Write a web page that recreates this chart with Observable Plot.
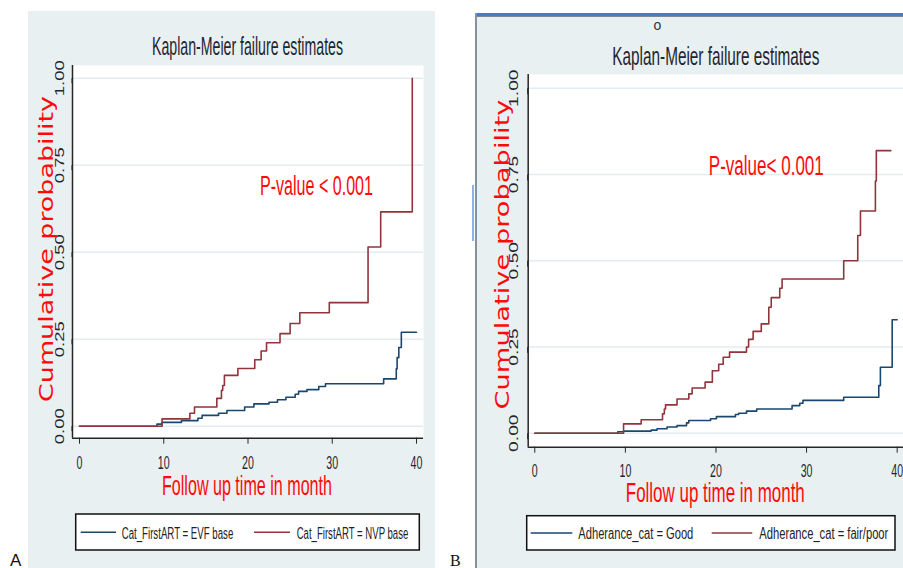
<!DOCTYPE html>
<html><head><meta charset="utf-8">
<script src="https://cdn.jsdelivr.net/npm/d3@7"></script>
<script src="https://cdn.jsdelivr.net/npm/@observablehq/plot@0.6"></script>
<style>
html,body{margin:0;padding:0;background:#fff;}
#stage{position:relative;width:903px;height:568px;overflow:hidden;background:#fff;}
#stage > *{position:absolute;}
</style></head><body><div id="stage"></div>
<script>
// ---------------- data ----------------
const xTicks = [0, 10, 20, 30, 40];
const yTicks = [0, 0.25, 0.5, 0.75, 1];

const panelTitle = "Kaplan-Meier failure estimates";
const yTitle = "Cumulative probability";
const xTitle = "Follow up time in month";
const pLabels = ["P-value < 0.001", "P-value< 0.001"];
const panelLetters = ["A", "B"];

// Panel A
const aSeries = ["Cat_FirstART = EVF base", "Cat_FirstART = NVP base"];
const aEVF_time = [0, 9.2, 9.8, 12.1, 14.05, 14.55, 16.5, 17.5, 19.6, 20.7, 22.5, 23.5, 24.5, 25.6, 26.0, 27.0, 28.4, 29.2, 36.1, 37.6, 37.7, 37.9, 38.2, 40.0];
const aEVF_prob = [0, 0.006, 0.011, 0.016, 0.023, 0.031, 0.037, 0.045, 0.055, 0.064, 0.069, 0.076, 0.083, 0.092, 0.100, 0.105, 0.114, 0.122, 0.136, 0.165, 0.197, 0.226, 0.270, 0.270];
const aNVP_time = [0, 9.8, 13.1, 13.65, 16.3, 16.85, 17.0, 17.2, 18.8, 20.8, 21.56, 22.2, 23.8, 25.0, 26.15, 29.65, 34.25, 35.75, 39.5];
const aNVP_prob = [0, 0.021, 0.037, 0.055, 0.080, 0.103, 0.117, 0.146, 0.166, 0.191, 0.216, 0.240, 0.266, 0.295, 0.326, 0.355, 0.515, 0.616, 1.0];

// Panel B
const bSeries = ["Adherance_cat = Good", "Adherance_cat = fair/poor"];
const bGood_time = [0, 9.16, 9.8, 12.85, 13.5, 14.6, 15.7, 16.75, 17.0, 19.4, 20.05, 22.15, 22.5, 23.37, 24.5, 28.4, 29.25, 29.6, 34.1, 37.97, 38.15, 39.45, 40.0];
const bGood_prob = [0, 0.004, 0.006, 0.009, 0.013, 0.018, 0.022, 0.030, 0.037, 0.042, 0.048, 0.054, 0.058, 0.064, 0.070, 0.080, 0.087, 0.095, 0.104, 0.138, 0.191, 0.329, 0.329];
const bPoor_time = [0, 9.8, 11.74, 14.1, 14.3, 14.43, 15.7, 17.0, 17.37, 18.8, 19.6, 20.3, 20.8, 21.5, 23.37, 23.6, 24.1, 25.0, 25.83, 26.1, 27.04, 27.3, 34.1, 35.65, 35.95, 37.6, 37.7, 39.3];
const bPoor_prob = [0, 0.027, 0.039, 0.056, 0.070, 0.082, 0.099, 0.114, 0.131, 0.148, 0.181, 0.200, 0.220, 0.235, 0.250, 0.272, 0.295, 0.317, 0.365, 0.393, 0.420, 0.447, 0.500, 0.573, 0.644, 0.731, 0.819, 0.819];

// ---------------- style ----------------
const NAVY = "#1a476f", MAROON = "#90353b", GRID = "#e3ecf0", BG = "#e9f0f2";
const AXIS = "#262626", RED = "#ff0a0a", TXT = "#1e2630";
const NARROW = "'Liberation Sans Narrow','Liberation Sans',Arial,sans-serif";
const SANS = "'Liberation Sans',Arial,sans-serif";
const WIDE = "'DejaVu Sans',Verdana,sans-serif";

const stage = document.getElementById("stage");
function box(l, t, w, h, bg) {
  const d = document.createElement("div");
  Object.assign(d.style, {left: l + "px", top: t + "px", width: w + "px", height: h + "px", background: bg});
  stage.appendChild(d);
}
// panel backgrounds / window frame
box(27.7, 10.9, 407.3, 560, BG);
box(477, 16, 430, 560, BG);
box(475, 13, 430, 3, "#3b7dd8");
box(477, 16, 430, 1.2, "#7d8790");
box(475, 13, 2, 560, "#8a9299");
box(471.5, 185, 2.5, 56, "#86b5ea");

function rowsOf(series, times, probs) {
  const rows = [];
  series.forEach((s, i) => times[i].forEach((t, j) => rows.push({series: s, time: t, prob: probs[i][j]})));
  return rows;
}

function kmPanel(cfg, series, times, probs) {
  const rows = rowsOf(series, times, probs);
  const plot = Plot.plot({
    width: cfg.width, height: cfg.height,
    marginLeft: cfg.ml, marginRight: cfg.mr, marginTop: cfg.mt, marginBottom: cfg.mb,
    style: {background: "transparent", overflow: "visible", color: AXIS},
    x: {domain: cfg.xd, label: null},
    y: {domain: cfg.yd, label: null},
    color: {domain: series, range: [NAVY, MAROON]},
    marks: [
      Plot.frame({fill: "white", stroke: "none"}),
      Plot.ruleY(yTicks, {stroke: GRID, strokeWidth: 1.5}),
      Plot.line(rows, {x: "time", y: "prob", z: "series", stroke: "series", curve: "step-after", strokeWidth: 1.6}),
      Plot.axisX(xTicks, {label: null, tickSize: 6, tickPadding: cfg.xpad, tickFormat: d => String(d)}),
      Plot.axisY(yTicks, {label: null, tickSize: cfg.ytick, tickPadding: cfg.ypad, tickRotate: -90, rotate: -90,
        textAnchor: "middle", lineAnchor: "bottom", tickFormat: d3.format(".2f")}),
      Plot.ruleX([cfg.xd[0]], {stroke: AXIS, strokeWidth: 1.5}),
      Plot.ruleY([cfg.yd[0]], {stroke: AXIS, strokeWidth: 1.5})
    ]
  });
  plot.style.left = cfg.left + "px";
  plot.style.top = "0px";
  plot.style.position = "absolute";
  plot.style.maxWidth = "none";
  stage.appendChild(plot);
  // Stata-like squeezed fonts for tick labels
  plot.querySelectorAll("text").forEach(t => {
    const s = t.textContent;
    if (/^\d+$/.test(s)) {
      t.setAttribute("font-size", cfg.xfs); t.setAttribute("font-family", SANS); t.setAttribute("fill", TXT);
      const w = t.getComputedTextLength();
      t.setAttribute("textLength", w * cfg.xsq); t.setAttribute("lengthAdjust", "spacingAndGlyphs");
    } else if (/\./.test(s)) {
      t.setAttribute("font-size", cfg.yfs); t.setAttribute("font-family", SANS); t.setAttribute("fill", TXT);
      const w = t.getComputedTextLength();
      t.setAttribute("textLength", w * cfg.ysq); t.setAttribute("lengthAdjust", "spacingAndGlyphs");
    }
  });
  return plot;
}

kmPanel({left: 0, width: 435, height: 470, ml: 72, mr: 12, mt: 65, mb: 32.3,
  xd: [-0.831, 40.831], yd: [-0.0345, 1.0365], xpad: 11.3, ytick: 5, ypad: 3.5,
  xfs: 19, xsq: 0.56, yfs: 12.5, ysq: 1.48},
  aSeries, [aEVF_time, aNVP_time], [aEVF_prob, aNVP_prob]);

kmPanel({left: 450, width: 453, height: 568, ml: 77.7, mr: 0, mt: 74, mb: 121.3,
  xd: [-0.728, 40.70], yd: [-0.0406, 1.0397], xpad: 11.1, ytick: 6, ypad: 4.7,
  xfs: 18, xsq: 0.59, yfs: 12, ysq: 1.6},
  bSeries, [bGood_time, bPoor_time], [bGood_prob, bPoor_prob]);

// ---------------- overlay text, legends ----------------
const ov = d3.select(stage).append("svg")
  .attr("width", 903).attr("height", 568)
  .style("left", "0px").style("top", "0px").style("pointer-events", "none");

function txt(x, y, str, o) {
  const t = ov.append("text")
    .attr("transform", `translate(${x},${y}) rotate(${o.rotate || 0})`)
    .attr("text-anchor", o.anchor || "middle")
    .attr("font-size", o.size)
    .attr("font-family", o.family || NARROW)
    .attr("fill", o.fill || TXT)
    .text(str);
  if (o.len) t.attr("textLength", o.len).attr("lengthAdjust", "spacingAndGlyphs");
  return t;
}

function legend(x, y, w, h, names, items) {
  ov.append("rect").attr("x", x).attr("y", y).attr("width", w).attr("height", h)
    .attr("fill", "white").attr("stroke", "#111").attr("stroke-width", 1.5);
  items.forEach((it, i) => {
    ov.append("line").attr("x1", it.l0).attr("x2", it.l1).attr("y1", it.ly).attr("y2", it.ly)
      .attr("stroke", i === 0 ? NAVY : MAROON).attr("stroke-width", 1.6);
    txt(it.tx, it.ty, names[i], {size: 16, anchor: "start", len: it.len, fill: "#222"});
  });
}

// Panel A
txt(247.5, 55, panelTitle, {size: 25, len: 191});
txt(316.5, 195, pLabels[0], {size: 28, len: 113, fill: RED});
txt(53, 249, yTitle, {size: 19, family: WIDE, rotate: -90, len: 306, fill: RED});
txt(247, 495, xTitle, {size: 28, len: 170, fill: RED});
legend(75.7, 514, 343.6, 36, aSeries, [
  {l0: 80.7, l1: 116, ly: 532.3, tx: 121.7, ty: 539, len: 111.6},
  {l0: 254, l1: 290, ly: 532.3, tx: 296.7, ty: 539, len: 111.6}
]);
txt(10, 565.5, panelLetters[0], {size: 17, anchor: "start", family: SANS, fill: "#111"});

// Panel B
txt(657.5, 30, "o", {size: 14, family: SANS, fill: "#333"});
txt(715.8, 65, panelTitle, {size: 25, len: 207});
txt(766.3, 175, pLabels[1], {size: 28, len: 115, fill: RED});
txt(509, 254.5, yTitle, {size: 19, family: WIDE, rotate: -90, len: 310, fill: RED});
txt(715.3, 502, xTitle, {size: 28, len: 179, fill: RED});
legend(526.7, 515.7, 368.3, 34.3, bSeries, [
  {l0: 530.7, l1: 572.3, ly: 533, tx: 578.3, ty: 539.3, len: 115},
  {l0: 711.7, l1: 752.3, ly: 533, tx: 759.3, ty: 539.3, len: 129}
]);
txt(450, 566, panelLetters[1], {size: 16, anchor: "start", family: "'Liberation Serif','Times New Roman',serif", fill: "#111"});
</script>
</body></html>
